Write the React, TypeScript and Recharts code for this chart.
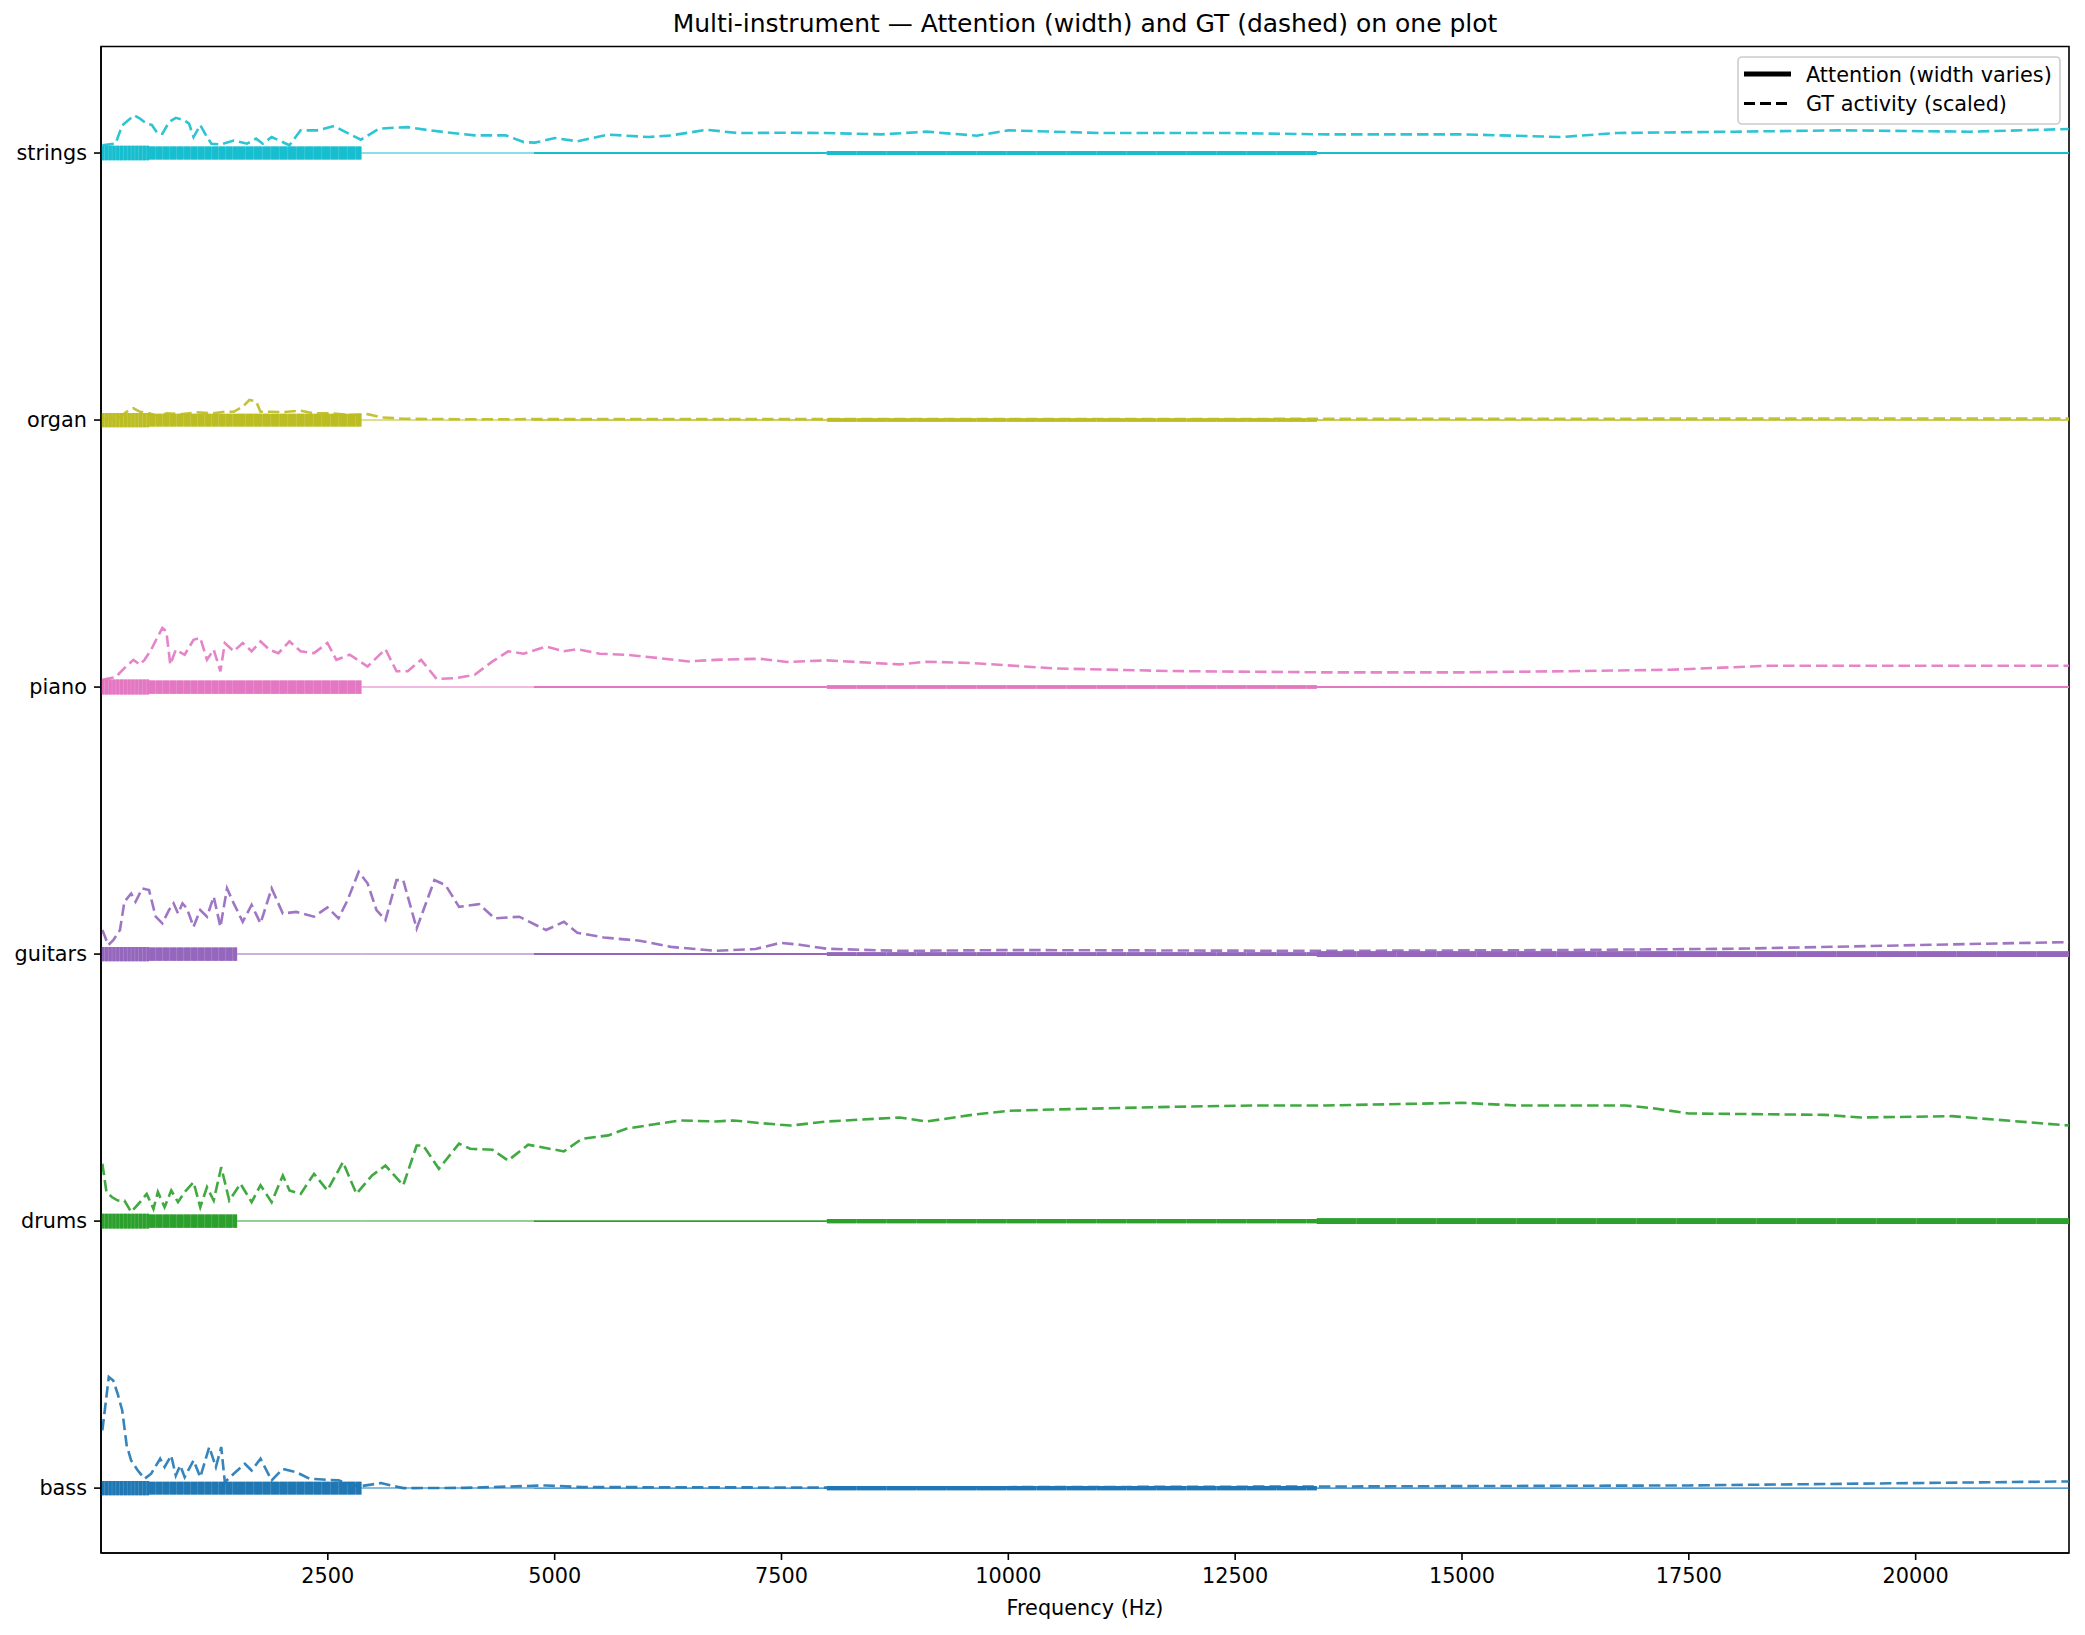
import React from 'react';
import { ComposedChart, Line, XAxis, YAxis, ReferenceArea } from 'recharts';

// instruments, bottom to top (y = 0..5)
const INSTRUMENTS = ['bass', 'drums', 'guitars', 'piano', 'organ', 'strings'];
const COLORS = ['#1f77b4', '#2ca02c', '#9467bd', '#e377c2', '#bcbd22', '#17becf'];
const X_TICKS = [2500, 5000, 7500, 10000, 12500, 15000, 17500, 20000];
const Y_TICKS = [0, 1, 2, 3, 4, 5];

// attention is constant over these frequency bands (Hz)
const BAND_EDGES_HZ = [0, 530, 1500, 2870, 4770, 8000, 13400, 21690];

// attention per band (relative, 1 = widest stroke)
const ATT_BASS = [0.99, 0.88, 0.88, 0.07, 0.1, 0.3, 0.1];
const ATT_DRUMS = [1.01, 0.92, 0.07, 0.07, 0.12, 0.28, 0.39];
const ATT_GUITARS = [0.99, 0.92, 0.07, 0.07, 0.14, 0.26, 0.39];
const ATT_PIANO = [1.03, 0.92, 0.92, 0.07, 0.14, 0.24, 0.14];
const ATT_ORGAN = [0.99, 0.88, 0.88, 0.07, 0.1, 0.24, 0.1];
const ATT_STRINGS = [1.0, 0.9, 0.9, 0.07, 0.14, 0.28, 0.14];

// GT activity (scaled) as [Hz, offset above the instrument row]
const GT_BASS: [number, number][] = [
  [15, 0.216], [86, 0.416], [135, 0.403], [184, 0.353], [234, 0.291], [283, 0.16], [332, 0.104],
  [406, 0.066], [480, 0.035], [553, 0.054], [652, 0.11], [701, 0.079], [774, 0.122], [824, 0.047],
  [873, 0.085], [922, 0.041], [1020, 0.104], [1094, 0.041], [1193, 0.154], [1266, 0.079], [1325, 0.154],
  [1365, 0.022], [1463, 0.054], [1586, 0.091], [1660, 0.066], [1758, 0.11], [1881, 0.029], [2004, 0.072],
  [2151, 0.06], [2298, 0.035], [2446, 0.032], [2618, 0.029], [2840, 0.006], [3086, 0.019], [3331, 0.0],
  [4000, 0.001], [4905, 0.01], [5300, 0.004], [8000, 0.002], [13500, 0.006], [17500, 0.01], [21690, 0.025],
];
const GT_DRUMS: [number, number][] = [
  [15, 0.215], [60, 0.109], [120, 0.09], [184, 0.077], [258, 0.077], [332, 0.034], [430, 0.071],
  [504, 0.102], [578, 0.046], [627, 0.109], [701, 0.052], [774, 0.115], [849, 0.071], [922, 0.109],
  [1020, 0.146], [1094, 0.052], [1168, 0.127], [1242, 0.077], [1325, 0.202], [1414, 0.077], [1537, 0.14],
  [1660, 0.071], [1758, 0.134], [1881, 0.071], [2004, 0.171], [2077, 0.115], [2200, 0.102], [2348, 0.177],
  [2495, 0.115], [2667, 0.221], [2815, 0.102], [2987, 0.171], [3135, 0.208], [3331, 0.134], [3479, 0.283],
  [3552, 0.283], [3724, 0.196], [3946, 0.29], [4069, 0.271], [4315, 0.267], [4487, 0.227], [4708, 0.286],
  [5102, 0.261], [5298, 0.308], [5593, 0.321], [5789, 0.346], [6085, 0.362], [6380, 0.377], [6773, 0.373],
  [6970, 0.377], [7264, 0.367], [7599, 0.358], [8000, 0.373], [8800, 0.388], [9100, 0.373], [9600, 0.398],
  [10000, 0.413], [10500, 0.418], [11800, 0.428], [12700, 0.433], [13500, 0.433], [15000, 0.443],
  [15600, 0.433], [16800, 0.433], [17100, 0.423], [17500, 0.403], [19000, 0.398], [19400, 0.388],
  [20400, 0.393], [21690, 0.358],
];
const GT_GUITARS: [number, number][] = [
  [15, 0.09], [80, 0.034], [135, 0.052], [209, 0.09], [258, 0.196], [332, 0.227], [381, 0.196],
  [455, 0.246], [529, 0.24], [603, 0.14], [676, 0.115], [750, 0.165], [800, 0.19], [849, 0.152],
  [898, 0.19], [947, 0.171], [1020, 0.102], [1094, 0.165], [1168, 0.14], [1242, 0.215], [1316, 0.102],
  [1389, 0.246], [1463, 0.19], [1562, 0.121], [1660, 0.184], [1758, 0.115], [1881, 0.246], [2004, 0.152],
  [2151, 0.158], [2348, 0.14], [2495, 0.175], [2618, 0.134], [2717, 0.202], [2840, 0.308], [2938, 0.265],
  [3036, 0.165], [3135, 0.127], [3257, 0.277], [3331, 0.277], [3479, 0.096], [3675, 0.277], [3798, 0.258],
  [3946, 0.177], [4167, 0.187], [4339, 0.134], [4610, 0.14], [4905, 0.09], [5102, 0.121], [5249, 0.08],
  [5544, 0.062], [5937, 0.05], [6282, 0.027], [6773, 0.012], [7215, 0.019], [7486, 0.042], [7700, 0.035],
  [8000, 0.02], [8800, 0.012], [10000, 0.015], [13500, 0.012], [16000, 0.015], [18000, 0.02], [21690, 0.045],
];
const GT_PIANO: [number, number][] = [
  [15, 0.027], [160, 0.037], [258, 0.071], [357, 0.102], [430, 0.084], [480, 0.102], [553, 0.14],
  [627, 0.19], [676, 0.221], [720, 0.209], [764, 0.084], [824, 0.14], [922, 0.121], [1020, 0.177],
  [1094, 0.184], [1168, 0.102], [1242, 0.14], [1316, 0.059], [1365, 0.165], [1463, 0.134], [1562, 0.165],
  [1660, 0.134], [1758, 0.171], [1856, 0.14], [1955, 0.127], [2077, 0.171], [2200, 0.134], [2348, 0.127],
  [2495, 0.165], [2594, 0.102], [2741, 0.121], [2938, 0.077], [3135, 0.142], [3257, 0.059], [3380, 0.059],
  [3528, 0.102], [3700, 0.03], [3921, 0.034], [4118, 0.046], [4315, 0.096], [4487, 0.134], [4659, 0.125],
  [4905, 0.152], [5102, 0.134], [5249, 0.142], [5495, 0.125], [5789, 0.121], [6134, 0.109], [6478, 0.096],
  [6773, 0.102], [7264, 0.106], [7560, 0.094], [8000, 0.1], [8800, 0.085], [9100, 0.095], [9600, 0.09],
  [10500, 0.07], [11800, 0.06], [13500, 0.055], [15000, 0.055], [16300, 0.06], [17300, 0.065],
  [18400, 0.08], [19800, 0.08], [21690, 0.08],
];
const GT_ORGAN: [number, number][] = [
  [15, 0.003], [200, 0.01], [300, 0.035], [357, 0.044], [430, 0.031], [530, 0.025], [627, 0.015],
  [726, 0.025], [873, 0.022], [1069, 0.029], [1217, 0.025], [1365, 0.031], [1463, 0.031], [1562, 0.05],
  [1635, 0.075], [1709, 0.07], [1758, 0.031], [1856, 0.031], [2004, 0.03], [2200, 0.035], [2348, 0.025],
  [2545, 0.025], [2741, 0.019], [2938, 0.022], [3086, 0.01], [3331, 0.005], [4000, 0.003], [6000, 0.004],
  [8000, 0.004], [12000, 0.004], [16000, 0.005], [21690, 0.006],
];
const GT_STRINGS: [number, number][] = [
  [15, 0.029], [160, 0.035], [234, 0.104], [366, 0.141], [430, 0.129], [504, 0.11], [560, 0.105],
  [627, 0.072], [676, 0.072], [750, 0.116], [824, 0.132], [922, 0.122], [970, 0.11], [1020, 0.06],
  [1094, 0.105], [1168, 0.06], [1217, 0.035], [1316, 0.032], [1463, 0.047], [1610, 0.035], [1709, 0.054],
  [1783, 0.035], [1881, 0.06], [2077, 0.029], [2200, 0.085], [2397, 0.085], [2569, 0.101], [2692, 0.079],
  [2864, 0.05], [3061, 0.091], [3233, 0.095], [3380, 0.097], [3626, 0.085], [3872, 0.075], [4118, 0.066],
  [4462, 0.066], [4659, 0.041], [4782, 0.039], [5003, 0.056], [5249, 0.044], [5593, 0.069], [6035, 0.06],
  [6282, 0.066], [6675, 0.087], [7019, 0.075], [7560, 0.076], [8000, 0.075], [8600, 0.07], [9100, 0.08],
  [9650, 0.065], [10000, 0.085], [11000, 0.075], [12400, 0.075], [13500, 0.07], [15000, 0.07],
  [16100, 0.06], [16700, 0.075], [18000, 0.08], [19200, 0.085], [20600, 0.08], [21690, 0.09],
];

const ATTENTION = [ATT_BASS, ATT_DRUMS, ATT_GUITARS, ATT_PIANO, ATT_ORGAN, ATT_STRINGS];
const GT = [GT_BASS, GT_DRUMS, GT_GUITARS, GT_PIANO, GT_ORGAN, GT_STRINGS];

const W = 2085;
const H = 1635;
const PLOT_LEFT = 101;
const PLOT_RIGHT = 2069;
const PLOT_TOP = 46.5;
const PLOT_BOTTOM = 1553;
const X_AXIS_H = 80;
const X_DOMAIN: [number, number] = [0, 21690];
const Y_DOMAIN: [number, number] = [-0.243, 5.399];
const MAX_WIDTH = 14.5;
// seam spacing (px) of the per-bin segments inside each band, for the striped look
const SEAM_STEP = [3.8, 7, 8.5, 12, 18, 30, 40];
const FONT = '"DejaVu Sans", Verdana, sans-serif';
const TICK_STYLE = { fill: '#000', fontSize: 20.8, fontFamily: FONT };

function LegendBox() {
  return (
    <svg width={330} height={75} style={{ position: 'absolute', left: 1734, top: 53 }}>
      <rect x={4} y={4} width={322} height={67} rx={4} fill="rgba(255,255,255,0.8)" stroke="#cccccc" strokeWidth={1.6} />
      <line x1={10} x2={57} y1={21} y2={21} stroke="#000" strokeWidth={5.2} />
      <text x={72} y={28.5} fontSize={20.8} fontFamily={FONT} fill="#000">Attention (width varies)</text>
      <line x1={10} x2={57} y1={50.5} y2={50.5} stroke="#000" strokeWidth={3} strokeDasharray="11 5" />
      <text x={72} y={57.5} fontSize={20.8} fontFamily={FONT} fill="#000">GT activity (scaled)</text>
    </svg>
  );
}

export default function App() {
  const attentionLines = INSTRUMENTS.flatMap((name, i) =>
    ATTENTION[i].flatMap((a, b) => {
      const seg = [{ f: BAND_EDGES_HZ[b], y: i }, { f: BAND_EDGES_HZ[b + 1], y: i }];
      const w = a * MAX_WIDTH;
      const striped = w >= 3;
      const out = [];
      if (striped) {
        out.push(
          <Line
            key={`att-u-${name}-${b}`}
            data={seg}
            dataKey="y"
            type="linear"
            stroke={COLORS[i]}
            strokeOpacity={0.78}
            strokeWidth={w}
            dot={false}
            activeDot={false}
            legendType="none"
            isAnimationActive={false}
          />
        );
      }
      out.push(
        <Line
          key={`att-${name}-${b}`}
          data={seg}
          dataKey="y"
          type="linear"
          stroke={COLORS[i]}
          strokeWidth={w}
          strokeDasharray={striped ? `${SEAM_STEP[b] - 0.7} 0.7` : undefined}
          dot={false}
          activeDot={false}
          legendType="none"
          isAnimationActive={false}
        />
      );
      return out;
    })
  );
  const gtLines = INSTRUMENTS.map((name, i) => (
    <Line
      key={`gt-${name}`}
      data={GT[i].map(([f, v]) => ({ f, y: i + v }))}
      dataKey="y"
      type="linear"
      stroke={COLORS[i]}
      strokeOpacity={0.9}
      strokeWidth={2.6}
      strokeDasharray="11.5 5"
      dot={false}
      activeDot={false}
      legendType="none"
      isAnimationActive={false}
    />
  ));

  return (
    <div style={{ position: 'absolute', left: 0, top: 0, width: W, height: H, background: '#fff', fontFamily: FONT }}>
      <div
        style={{
          position: 'absolute', left: PLOT_LEFT, width: PLOT_RIGHT - PLOT_LEFT, top: 9.4,
          textAlign: 'center', fontSize: 25, lineHeight: '30px', color: '#000', whiteSpace: 'nowrap',
        }}
      >
        Multi-instrument — Attention (width) and GT (dashed) on one plot
      </div>
      <ComposedChart
        width={W}
        height={H}
        margin={{ top: PLOT_TOP, right: W - PLOT_RIGHT, bottom: H - PLOT_BOTTOM - X_AXIS_H, left: 0 }}
      >
        <XAxis
          type="number"
          dataKey="f"
          domain={X_DOMAIN}
          ticks={X_TICKS}
          allowDataOverflow
          height={X_AXIS_H}
          tickSize={7}
          tickMargin={8}
          tick={TICK_STYLE}
          tickLine={{ stroke: '#000', strokeWidth: 1.6 }}
          axisLine={{ stroke: '#000', strokeWidth: 1.6 }}
          label={{ value: 'Frequency (Hz)', position: 'insideBottom', offset: 18, style: { ...TICK_STYLE } }}
        />
        <YAxis
          type="number"
          domain={Y_DOMAIN}
          ticks={Y_TICKS}
          allowDataOverflow
          width={PLOT_LEFT}
          tickSize={7}
          tickMargin={7}
          tick={TICK_STYLE}
          tickLine={{ stroke: '#000', strokeWidth: 1.6 }}
          axisLine={{ stroke: '#000', strokeWidth: 1.6 }}
          tickFormatter={(v: number) => INSTRUMENTS[v]}
        />
        {attentionLines}
        {gtLines}
        <ReferenceArea
          x1={X_DOMAIN[0]}
          x2={X_DOMAIN[1]}
          y1={Y_DOMAIN[0]}
          y2={Y_DOMAIN[1]}
          fill="none"
          stroke="#000"
          strokeWidth={1.6}
          ifOverflow="visible"
        />
      </ComposedChart>
      <LegendBox />
    </div>
  );
}
